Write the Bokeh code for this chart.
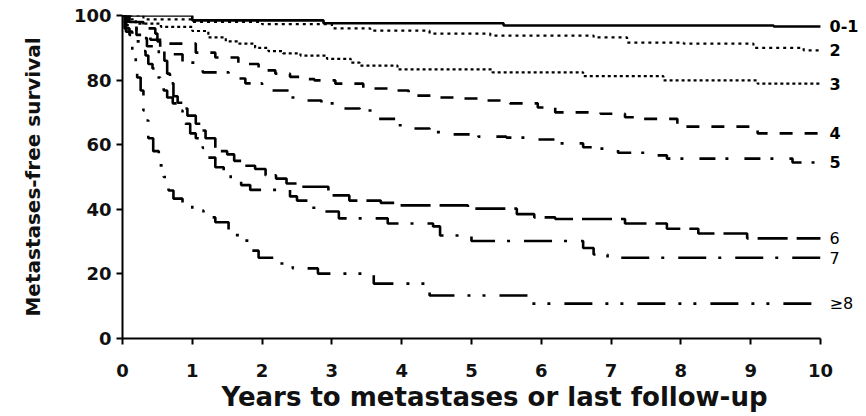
from bokeh.plotting import figure
from bokeh.models import Range1d
from bokeh.embed import file_html
from bokeh.resources import INLINE
from bokeh.core.properties import value

# ---------------- data ----------------
year_ticks = [0, 1, 2, 3, 4, 5, 6, 7, 8, 9, 10]
surv_ticks = [0, 20, 40, 60, 80, 100]
follow_up_end = 10

groups = ["0-1", "2", "3", "4", "5", "6", "7", "\u22658"]

t_01 = [0, 1.0, 2.88, 5.46, 9.33]
s_01 = [100, 98.5, 97.6, 96.9, 96.6]

t_2 = [0, 0.3, 1.0, 2.0, 3.0, 3.55, 4.4, 5.27, 6.75, 7.23, 8.04, 9.04, 9.76]
s_2 = [100, 98.8, 98.0, 97.3, 96.0, 95.3, 94.4, 93.8, 93.2, 91.6, 91.3, 90.0, 89.2]

t_3 = [0, 0.1, 0.19, 0.55, 1.0, 1.23, 1.48, 1.66, 1.9, 2.09, 2.3, 2.55, 2.93,
       3.27, 3.4, 3.94, 5.3, 6.6, 7.75, 9.1]
s_3 = [100, 98.8, 97.5, 96.5, 95.2, 93.2, 92.0, 91.3, 90.0, 89.0, 88.3, 87.6, 86.6,
       85.4, 84.5, 83.3, 82.4, 81.2, 79.9, 78.9]

t_4 = [0, 0.08, 0.2, 0.4, 0.66, 1.05, 1.33, 1.66, 1.95, 2.19, 2.4, 2.55, 2.75,
       3.05, 3.45, 3.8, 4.1, 4.45, 4.8, 5.2, 5.55, 5.95, 6.2, 6.85, 7.2, 7.4,
       7.95, 9.1]
s_4 = [100, 97.0, 94.0, 92.5, 91.3, 88.5, 87.0, 85.0, 83.0, 82.0, 81.0, 80.3, 79.9,
       78.9, 77.4, 76.8, 75.2, 74.6, 74.3, 73.7, 72.8, 71.5, 70.0, 69.6, 68.5, 68.0,
       65.6, 63.5]

t_5 = [0, 0.05, 0.2, 0.35, 0.52, 0.86, 1.15, 1.52, 1.76, 2.0, 2.15, 2.4, 2.6,
       2.85, 3.1, 3.4, 3.65, 3.95, 4.15, 4.4, 4.6, 5.1, 5.5, 5.9, 6.2, 6.6, 6.75,
       7.1, 7.6, 7.8, 9.6]
s_5 = [100, 97.0, 93.0, 90.5, 88.0, 85.4, 82.4, 80.5, 79.0, 77.4, 76.8, 74.6, 73.7,
       72.8, 71.2, 70.6, 68.0, 66.0, 65.0, 63.9, 63.2, 62.5, 62.2, 61.6, 60.4, 59.2, 58.8,
       57.5, 56.7, 55.7, 54.5]

t_6 = [0, 0.1, 0.3, 0.47, 0.5, 0.54, 0.6, 0.64, 0.68, 0.73, 0.79, 0.86, 0.93,
       1.05, 1.12, 1.19, 1.33, 1.5, 1.6, 1.75, 1.9, 2.05, 2.2, 2.35, 2.5, 2.95,
       3.25, 3.7, 3.95, 4.95, 5.65, 5.9, 6.2, 7.2, 7.8, 8.25, 8.95]
s_6 = [100, 98.0, 96.0, 94.4, 92.0, 90.0, 86.0, 82.0, 79.0, 75.0, 73.0, 71.2, 69.0,
       66.5, 64.4, 62.0, 58.0, 57.0, 55.0, 53.5, 52.5, 50.5, 49.5, 48.0, 47.0, 44.3,
       42.7, 42.0, 41.2, 40.2, 38.5, 37.5, 37.0, 35.6, 34.0, 32.5, 31.0]

t_7 = [0, 0.03, 0.1, 0.19, 0.26, 0.33, 0.37, 0.43, 0.5, 0.54, 0.59, 0.64, 0.72,
       0.79, 0.86, 0.9, 0.97, 1.05, 1.15, 1.23, 1.33, 1.45, 1.55, 1.7, 1.83, 2.4,
       2.5, 2.7, 2.9, 3.1, 3.8, 4.45, 4.55, 5.0, 6.6, 6.75, 6.95]
s_7 = [100, 96.0, 94.0, 92.0, 89.0, 87.6, 85.0, 83.6, 80.8, 79.3, 76.8, 74.6, 72.8,
       70.6, 68.0, 66.5, 63.5, 62.0, 59.0, 56.0, 53.0, 51.0, 49.0, 47.5, 46.0, 44.0,
       42.7, 40.5, 39.3, 37.2, 35.6, 34.7, 31.9, 30.2, 28.0, 26.0, 25.0]

t_8 = [0, 0.05, 0.14, 0.19, 0.21, 0.26, 0.3, 0.33, 0.37, 0.44, 0.52, 0.59, 0.66,
       0.73, 0.86, 1.0, 1.16, 1.33, 1.52, 1.72, 1.86, 1.95, 2.24, 2.44, 2.8, 3.6,
       4.4, 5.85]
s_8 = [100, 95.0, 89.0, 85.4, 80.8, 76.8, 70.6, 67.5, 62.0, 58.0, 53.6, 50.0, 45.8,
       43.3, 41.8, 39.6, 37.5, 36.0, 32.0, 30.3, 27.2, 25.0, 23.2, 21.7, 20.1, 17.0,
       13.3, 10.8]

series_t = [t_01, t_2, t_3, t_4, t_5, t_6, t_7, t_8]
series_s = [s_01, s_2, s_3, s_4, s_5, s_6, s_7, s_8]

# ---------------- styles ----------------
dashes = ["solid", "3 4", "3 3", "13 12", "16 10 3 16", "30 9",
          "28 12 3 14", "28 13 3 12 3 14"]
widths = [2.6, 2.2, 2.2, 2.6, 2.6, 2.6, 2.6, 2.6]
label_weights = ["bold", "bold", "bold", "bold", "bold", "normal", "normal", "normal"]

FONT = "DejaVu Sans"

p = figure(width=866, height=416,
           x_range=Range1d(0, 10.66), y_range=Range1d(0, 100),
           output_backend="svg", toolbar_location=None,
           min_border_left=122, min_border_right=0,
           min_border_top=15, min_border_bottom=78)

p.outline_line_color = None
p.background_fill_color = "white"
p.border_fill_color = "white"
p.grid.visible = False

for t, s, d, w in zip(series_t, series_s, dashes, widths):
    xs = list(t) + [follow_up_end]
    ys = list(s) + [s[-1]]
    p.step(xs, ys, mode="after", line_color="black", line_width=w, line_dash=d)

for g, s, wt in zip(groups, series_s, label_weights):
    p.text(x=[10.13], y=[s[-1]], text=[g], text_align="left",
           text_baseline="middle", text_font=value(FONT),
           text_font_size="16px", text_font_style=wt, text_color="black")

# axes
for ax in (p.xaxis[0], p.yaxis[0]):
    ax.axis_line_width = 2
    ax.axis_line_color = "black"
    ax.major_tick_line_width = 2
    ax.major_tick_line_color = "black"
    ax.major_tick_out = 6
    ax.major_tick_in = 0
    ax.minor_tick_line_color = None
    ax.major_label_text_font = FONT
    ax.major_label_text_font_style = "bold"
    ax.major_label_text_font_size = "18px"
    ax.major_label_text_color = "#111111"
    ax.axis_label_text_font = FONT
    ax.axis_label_text_font_style = "bold"
    ax.axis_label_text_color = "#111111"

p.xaxis.ticker = year_ticks
p.yaxis.ticker = surv_ticks
p.xaxis.bounds = (0, 10)
p.yaxis.bounds = (0, 100)

p.xaxis.axis_label = "Years to metastases or last follow-up"
p.xaxis.axis_label_text_font_size = "26px"
p.xaxis.major_label_standoff = 19
p.xaxis.axis_label_standoff = 2

p.yaxis.axis_label = "Metastases-free survival"
p.yaxis.axis_label_text_font_size = "20px"
p.yaxis.major_label_standoff = 5
p.yaxis.axis_label_standoff = 26

open("out.html", "w").write(file_html(p, INLINE))
